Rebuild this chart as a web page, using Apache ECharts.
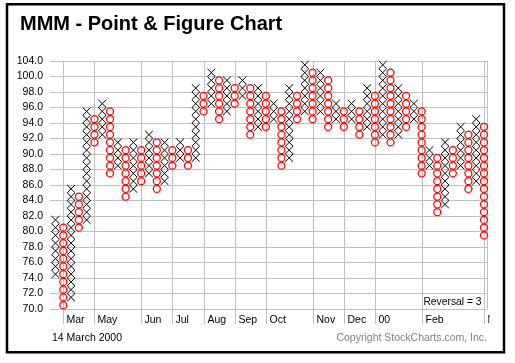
<!DOCTYPE html>
<html>
<head>
<meta charset="utf-8">
<script src="https://cdn.jsdelivr.net/npm/echarts@6/dist/echarts.min.js"></script>
<style>
html,body{margin:0;padding:0;background:#fff;}
#chart{width:515px;height:363px;}
</style>
</head>
<body>
<div id="chart"></div>
<script>
// Column data (box size 1 up to 100, 2 above 100), reversal 3
const colType = ['X','O','X','O','X','O','X','O','X','O','X','O','X','O','X','O','X','O','X','O',
                 'X','O','X','O','X','O','X','O','X','O','X','O','X','O','X','O','X','O','X','O',
                 'X','O','X','O','X','O','X','O','X','O','X','O','X','O','X','O'];
const colLow  = [74,70,71,80,81,91,92,87,88,84,85,86,87,85,86,88,89,88,89,95,
                 96,94,95,96,97,92,93,93,94,88,89,94,95,94,95,93,94,93,94,92,
                 93,91,92,91,92,93,94,87,88,82,83,87,88,85,86,79];
const colHigh = [81,80,85,84,95,94,96,95,91,90,91,90,92,91,91,90,91,90,98,97,
                 100,99,99,98,99,98,98,97,96,95,98,97,102,100,100,99,96,95,96,95,
                 98,97,102,100,98,97,96,95,90,89,91,90,93,92,94,93];

// Price-axis tick labels (one per two rows)
const yTickLabels = ['70.0','72.0','74.0','76.0','78.0','80.0','82.0','84.0','86.0','88.0',
                     '90.0','92.0','94.0','96.0','98.0','100.0','104.0'];
// Month markers: label and the column where it starts
const monthLabels = ['Mar','May','Jun','Jul','Aug','Sep','Oct','Nov','Dec','00','Feb','M'];
const monthCols   = [1,5,11,15,19,23,27,33,37,41,47,55];

const FONT = 'Liberation Sans, Arial, sans-serif';

function priceToRow(p) { return p <= 100 ? p - 70 : 30 + (p - 100) / 2; }

const colData = colType.map((t, i) => [i, priceToRow(colLow[i]), priceToRow(colHigh[i]), t === 'X' ? 1 : 0]);
const monthData = monthCols.map((c, i) => [c, i]);

const chart = echarts.init(document.getElementById('chart'), null, {renderer: 'canvas'});

chart.setOption({
  backgroundColor: '#fff',
  animation: false,
  title: {
    text: 'MMM - Point & Figure Chart',
    left: 20, top: 14, padding: 0,
    textStyle: {fontSize: 20, fontWeight: 'bold', fontFamily: FONT, color: '#000'}
  },
  grid: {left: 50, right: 28, top: 61, bottom: 54},
  xAxis: {
    type: 'value', min: -0.706, max: 55.385,
    axisLine: {show: false}, axisTick: {show: false}, axisLabel: {show: false}, splitLine: {show: false}
  },
  yAxis: [{
    type: 'value', min: 0, max: 32, interval: 2,
    axisLine: {show: false}, axisTick: {show: false},
    axisLabel: {
      margin: 7, fontSize: 10.5, fontFamily: FONT, color: '#000',
      formatter: v => yTickLabels[Math.round(v / 2)]
    },
    splitLine: {show: true, lineStyle: {color: '#c0c0c0', width: 1}}
  }, {
    type: 'value', min: 0, max: 32, position: 'right',
    axisLine: {show: true, lineStyle: {color: '#c0c0c0', width: 1}},
    axisTick: {show: false}, axisLabel: {show: false}, splitLine: {show: false}
  }],
  graphic: [
    {type: 'rect', shape: {x: 7, y: 4.3, width: 497, height: 348}, style: {fill: 'none', stroke: '#000', lineWidth: 2.5}, z: 100},
    {type: 'text', style: {text: '14 March 2000', x: 52, y: 338.5, font: '10.5px ' + FONT, fill: '#000', verticalAlign: 'middle', align: 'left'}},
    {type: 'text', style: {text: 'Copyright StockCharts.com, Inc.', x: 487, y: 338.5, font: '10.5px ' + FONT, fill: '#808080', verticalAlign: 'middle', align: 'right'}},
    {type: 'text', style: {text: 'Reversal = 3', x: 481.5, y: 302, font: '10.3px ' + FONT, fill: '#000', verticalAlign: 'middle', align: 'right'}}
  ],
  series: [{
    type: 'custom',
    name: 'months',
    clip: false,
    z: 1,
    silent: true,
    data: monthData,
    encode: {x: 0},
    renderItem: function (params, api) {
      const c = api.value(0);
      const idx = api.value(1);
      const top = api.coord([c, 32]);
      const bot = api.coord([c, 0]);
      const x = Math.round(top[0]) + 0.5;
      const children = [
        {type: 'line', shape: {x1: x, y1: top[1], x2: x, y2: bot[1] + 15}, style: {stroke: '#c0c0c0', lineWidth: 1}},
      ];
      const txt = {type: 'text', style: {text: monthLabels[idx], x: x + 3, y: bot[1] + 11.5, font: '10.5px ' + FONT, fill: '#000', verticalAlign: 'middle', align: 'left'}};
      if (idx === monthLabels.length - 1) {
        txt.clipPath = {type: 'rect', shape: {x: x, y: bot[1], width: 5, height: 20}};
      }
      children.push(txt);
      return {type: 'group', children: children};
    }
  }, {
    type: 'custom',
    name: 'pf',
    z: 5,
    silent: true,
    data: colData,
    encode: {x: 0, y: [1, 2]},
    renderItem: function (params, api) {
      const c = api.value(0);
      const lo = api.value(1);
      const hi = api.value(2);
      const isX = api.value(3);
      const size = api.size([1, 1]);
      const hw = size[0] / 2, hh = size[1] / 2;
      const children = [];
      for (let r = lo; r <= hi; r++) {
        const p = api.coord([c, r + 0.5]);
        if (isX) {
          children.push({type: 'line', shape: {x1: p[0] - hw, y1: p[1] - hh, x2: p[0] + hw, y2: p[1] + hh}, style: {stroke: '#000', lineWidth: 1}});
          children.push({type: 'line', shape: {x1: p[0] - hw, y1: p[1] + hh, x2: p[0] + hw, y2: p[1] - hh}, style: {stroke: '#000', lineWidth: 1}});
        } else {
          children.push({type: 'circle', shape: {cx: p[0], cy: p[1], r: hh * 0.9}, style: {fill: 'none', stroke: '#ff0000', lineWidth: 1.3}});
        }
      }
      return {type: 'group', children: children};
    }
  }]
});
</script>
</body>
</html>
